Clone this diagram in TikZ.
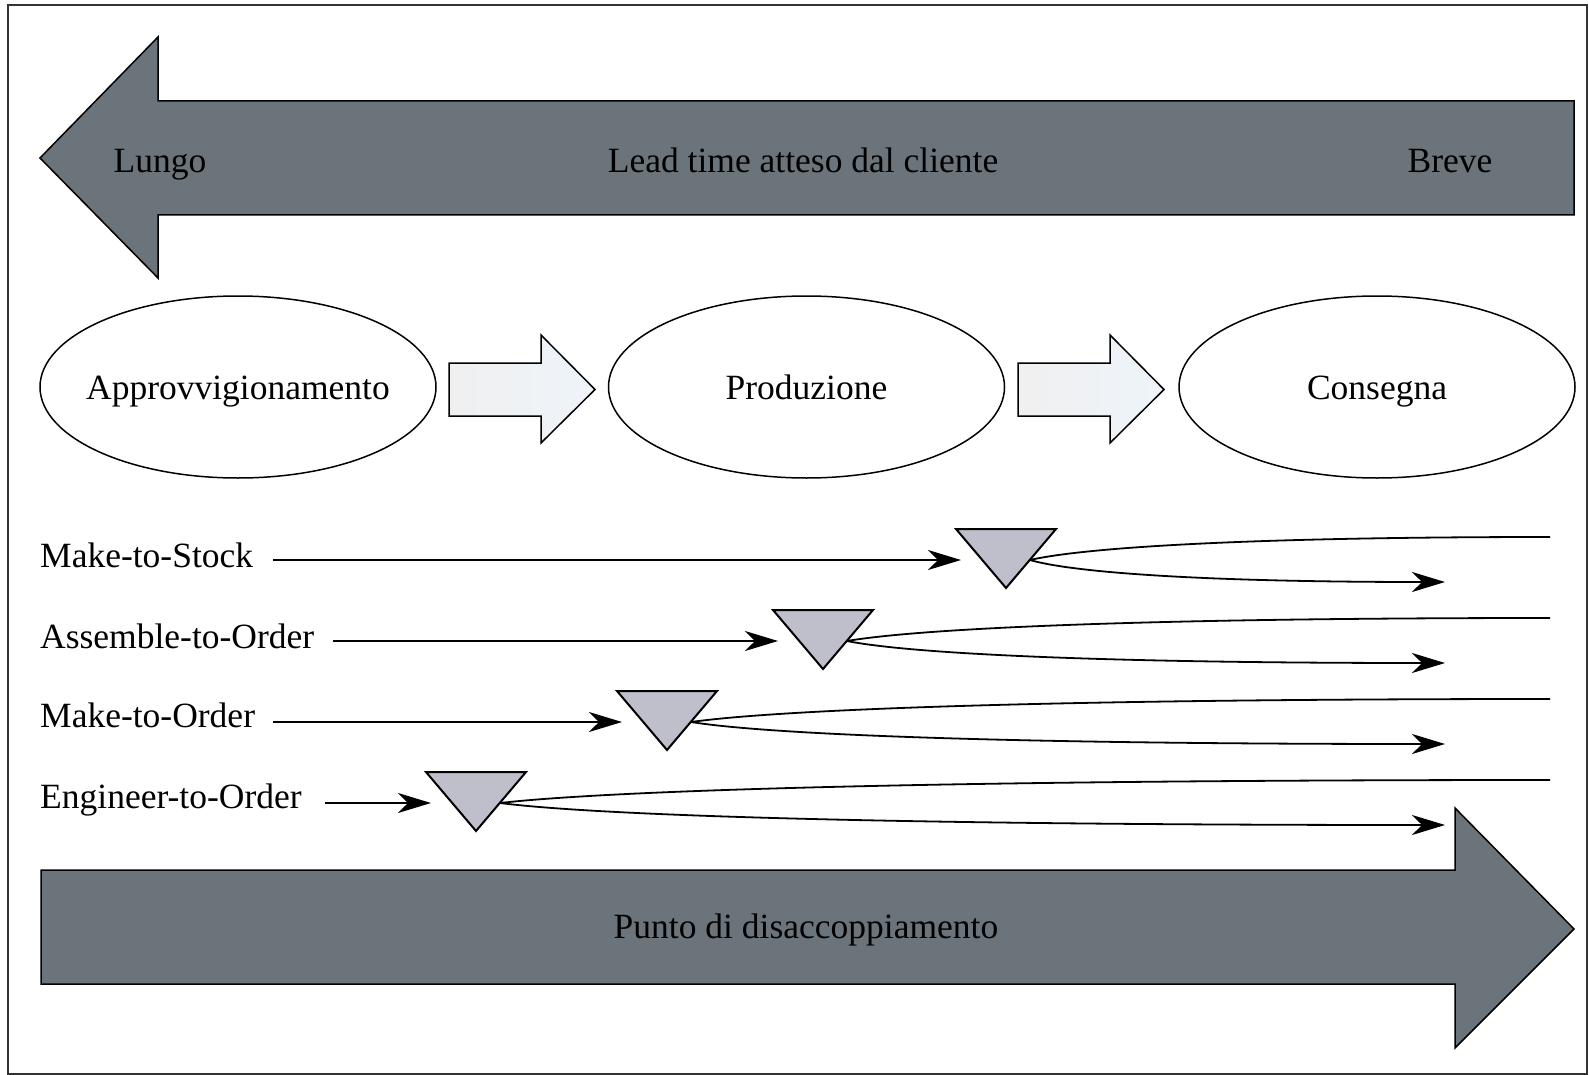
\documentclass[tikz,border=0pt]{standalone}
\usepackage{fontspec}
\setmainfont{Liberation Serif}
\usetikzlibrary{arrows.meta,shapes.geometric}

\definecolor{bandgrey}{HTML}{6B747A}
\definecolor{markfill}{HTML}{BEBFCB}
\definecolor{flowfill}{HTML}{EEF4FA}

\begin{document}
\begin{tikzpicture}[x=1pt,y=-1pt,
  lbl/.style={font=\fontsize{35.5}{40}\selectfont, inner sep=0pt},
  band/.style={fill=bandgrey, draw=black, line width=1.5pt, line join=miter},
  stage/.style={ellipse, draw=black, line width=1.5pt, minimum width=396pt,
    minimum height=182pt, inner sep=0pt},
  flow/.style={draw=black, line width=1.5pt, left color=gray!12, right color=flowfill},
  decmark/.style={fill=markfill, draw=black, line width=2pt, line join=miter},
  conn/.style={line width=1.8pt, -{Stealth[length=33pt,width=20pt,inset=10pt]}},
  fan/.style={line width=1.8pt}
]
\useasboundingbox (0,0) rectangle (1589,1075);
\draw[line width=2pt, draw=black!80] (8,5) rectangle (1587,1074);

% lead time band (pointing left)
\draw[band] (40,158) -- (158,37) -- (158,101) -- (1574,101) -- (1574,215)
  -- (158,215) -- (158,278) -- cycle;
\node[lbl, anchor=base] (lungo) at (160,173) {Lungo};
\node[lbl, anchor=base] (lead) at (803,173) {Lead time atteso dal cliente};
\node[lbl, anchor=base] (breve) at (1450,173) {Breve};

% process stages
\node[stage] (appr) at (238,387) {};
\node[stage] (prod) at (806.5,387) {};
\node[stage] (cons) at (1377,387) {};
\node[lbl, anchor=base] (apprtext) at (238,399) {Approvvigionamento};
\node[lbl, anchor=base] (prodtext) at (806.5,399) {Produzione};
\node[lbl, anchor=base] (constext) at (1377,399) {Consegna};

\draw[flow] (449,363) -- (541,363) -- (541,335) -- (595,389.5) -- (541,443)
  -- (541,416) -- (449,416) -- cycle;
\draw[flow] (1018,363) -- (1110,363) -- (1110,335) -- (1164,389.5) -- (1110,443)
  -- (1110,416) -- (1018,416) -- cycle;

% decoupling band (pointing right)
\draw[band] (41,870) -- (1455,870) -- (1455,808) -- (1574,929) -- (1455,1048)
  -- (1455,984) -- (41,984) -- cycle;
\node[lbl, anchor=base] (punto) at (806,938) {Punto di disaccoppiamento};

% strategy labels
\node[lbl, anchor=base west] (mts) at (40,567) {Make-to-Stock};
\node[lbl, anchor=base west] (ato) at (40,648) {Assemble-to-Order};
\node[lbl, anchor=base west] (mto) at (40,727) {Make-to-Order};
\node[lbl, anchor=base west] (eto) at (40,808) {Engineer-to-Order};

% decoupling markers
\draw[decmark] (956,529) -- (1056,529) -- (1006,588) -- cycle;
\draw[decmark] (773,610) -- (873,610) -- (823,669) -- cycle;
\draw[decmark] (617,691) -- (717,691) -- (667,750) -- cycle;
\draw[decmark] (426,772) -- (526,772) -- (476,831) -- cycle;

% connector ends
\coordinate (mtsA) at (273,560);  \coordinate (mtsB) at (961,560);
\coordinate (atoA) at (333,641);  \coordinate (atoB) at (778,641);
\coordinate (mtoA) at (273,722);  \coordinate (mtoB) at (622,722);
\coordinate (etoA) at (325,803);  \coordinate (etoB) at (431,803);

\coordinate (mtsS) at (1030,560); \coordinate (mtsU) at (1550,537); \coordinate (mtsL) at (1445,582);
\coordinate (atoS) at (847,641);  \coordinate (atoU) at (1550,618); \coordinate (atoL) at (1445,663);
\coordinate (mtoS) at (691,722);  \coordinate (mtoU) at (1550,699); \coordinate (mtoL) at (1445,744);
\coordinate (etoS) at (500,803);  \coordinate (etoU) at (1550,780); \coordinate (etoL) at (1445,825);

% incoming flows
\draw[conn] (mtsA) -- (mtsB);
\draw[conn] (atoA) -- (atoB);
\draw[conn] (mtoA) -- (mtoB);
\draw[conn] (etoA) -- (etoB);

% split after each marker
\draw[fan] (mtsS) .. controls (1082,548) and (1238,537) .. (mtsU);
\draw[conn] (mtsS) .. controls (1071,572) and (1196,582) .. (mtsL);
\draw[fan] (atoS) .. controls (917,629) and (1128,618) .. (atoU);
\draw[conn] (atoS) .. controls (907,653) and (1086,663) .. (atoL);
\draw[fan] (mtoS) .. controls (777,710) and (1035,699) .. (mtoU);
\draw[conn] (mtoS) .. controls (766,734) and (993,744) .. (mtoL);
\draw[fan] (etoS) .. controls (605,791) and (920,780) .. (etoU);
\draw[conn] (etoS) .. controls (594,815) and (878,825) .. (etoL);
\end{tikzpicture}
\end{document}
